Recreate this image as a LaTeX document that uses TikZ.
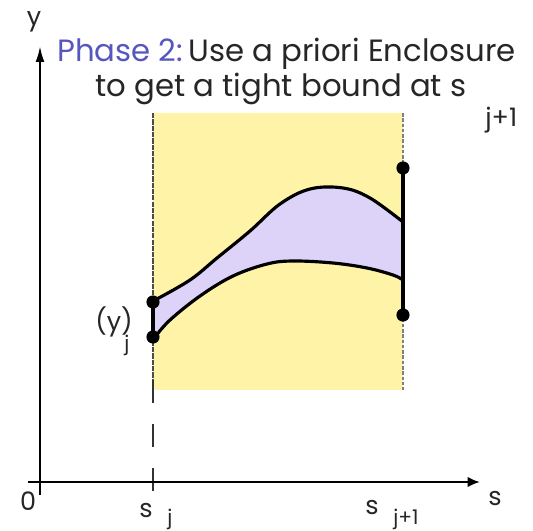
\documentclass[tikz,border=0pt]{standalone}
\usepackage{fontspec}
\setmainfont{Poppins}
\usetikzlibrary{arrows.meta}
\definecolor{boxyellow}{HTML}{FFF3A8}
\definecolor{bandpurple}{HTML}{DDD2F8}
\definecolor{phaseblue}{HTML}{5656BE}
\definecolor{txt}{HTML}{262626}
\tikzset{
  axis/.style={line width=1.3pt,black},
  curve/.style={line width=1.8pt,black},
  marker/.style={circle,fill=black,inner sep=0pt,minimum size=7.5pt},
  lbl/.style={text=txt,inner sep=0pt,font=\fontsize{14.5}{16}\selectfont},
  sub/.style={text=txt,inner sep=0pt,font=\fontsize{11.5}{13}\selectfont},
  bigsub/.style={text=txt,inner sep=0pt,font=\fontsize{14.5}{16}\selectfont},
  title/.style={inner sep=0pt,font=\fontsize{17.5}{20}\selectfont},
}
\begin{document}
\begin{tikzpicture}[x=0.02cm,y=-0.02cm]
\useasboundingbox[fill=white] (0,0) rectangle (533,530);
% yellow enclosure
\fill[boxyellow] (153,113) rectangle (403,390);
\draw[gray,dash pattern=on 2pt off 1pt,line width=0.8pt] (403,113) -- (403,390);
\draw[black!70,dash pattern=on 3pt off 0.6pt,line width=0.8pt] (153,113) -- (153,390);
% dashed s_j line
\coordinate (sjtop) at (153,380);
\coordinate (sjaxis) at (153,493);
\draw[black!80,line width=1.1pt,dash pattern=on 13pt off 12pt] (sjtop) -- (sjaxis);
% axes
\coordinate (xo) at (28,482);
\coordinate (xe) at (480,482);
\coordinate (yo) at (40,495);
\coordinate (ye) at (40,46);
\draw[axis,-{Latex[length=7pt,width=6pt]}] (xo) -- (xe);
\draw[axis,-{Latex[length=9pt,width=5pt]}] (yo) -- (ye);
% band fill
\fill[bandpurple] plot[smooth,tension=0.6] coordinates {(155,300) (190,280) (217,258) (250,231) (280,204) (310,189) (343,188) (370,198) (403,222)}
  -- plot[smooth,tension=0.6] coordinates {(403,280) (393,275) (367,268) (333,263) (293,261) (267,264) (233,276) (200,296) (170,320) (155,337)} -- cycle;
\draw[curve] plot[smooth,tension=0.6] coordinates {(155,300) (190,280) (217,258) (250,231) (280,204) (310,189) (343,188) (370,198) (403,222)};
\draw[curve] plot[smooth,tension=0.6] coordinates {(155,337) (170,320) (200,296) (233,276) (267,264) (293,261) (333,263) (367,268) (393,275) (403,280)};
% vertical interval bars
\node[marker] (lt) at (153,302) {};
\node[marker] (lb) at (153,337) {};
\node[marker] (rt) at (403,168) {};
\node[marker] (rb) at (403,315) {};
\draw[curve] (lt.center) -- (lb.center);
\draw[curve] (rt.center) -- (rb.center);
% labels
\node[lbl,anchor=base] (ylab) at (34,26) {y};
\node[lbl,anchor=base] (slab) at (495,505) {s};
\node[lbl,anchor=base] (zero) at (28,510) {0};
\node[lbl,anchor=base] (sj) at (146,517) {s};
\node[sub,anchor=base] (sjsub) at (170,524) {j};
\node[lbl,anchor=base] (sj1) at (372,514) {s};
\node[sub,anchor=base] (sj1sub) at (406,524) {j+1};
\node[lbl,anchor=base] (yj) at (114,330) {(y)};
\node[sub,anchor=base] (yjsub) at (127,350) {j};
\node[title,anchor=base west] (t1) at (57,62) {\textcolor{phaseblue}{Phase 2:}\,\textcolor{txt}{Use a priori Enclosure}};
\node[title,anchor=base west,text=txt] (t2) at (95,97) {to get a tight bound at s};
\node[bigsub,anchor=base west] (t2sub) at (485,127) {j+1};
\end{tikzpicture}
\end{document}
